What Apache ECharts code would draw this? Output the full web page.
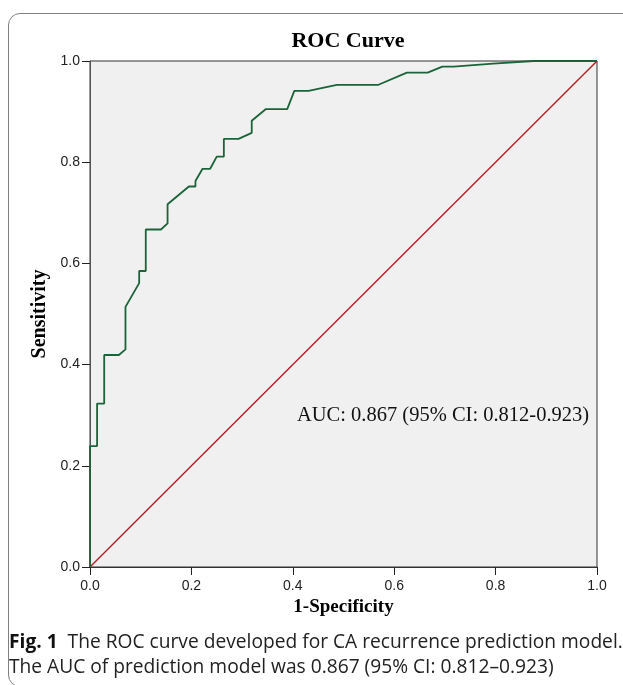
<!DOCTYPE html>
<html>
<head>
<meta charset="utf-8">
<script src="https://cdn.jsdelivr.net/npm/echarts@6/dist/echarts.min.js"></script>
<style>
	html, body { margin: 0; padding: 0; background: #fff; overflow: hidden; }
	#frame {
		position: absolute; left: 8px; top: 13px; width: 720px; height: 674px;
		border: 1.5px solid #808080; border-radius: 12px; box-sizing: border-box;
	}
	#chart { position: absolute; left: 0; top: 0; width: 623px; height: 685px; }
</style>
</head>
<body>
<div id="frame"></div>
<div id="chart"></div>
<script>
// ROC curve points: [1-specificity, sensitivity]
const rocPoints = [
	[0, 0], [0, 0.239], [0.014, 0.239], [0.014, 0.323], [0.028, 0.323],
	[0.028, 0.419], [0.057, 0.419], [0.07, 0.43], [0.07, 0.514],
	[0.097, 0.561], [0.097, 0.585], [0.11, 0.585], [0.11, 0.667],
	[0.14, 0.667], [0.153, 0.679], [0.153, 0.717], [0.195, 0.752],
	[0.208, 0.752], [0.208, 0.763], [0.222, 0.787], [0.237, 0.787],
	[0.25, 0.811], [0.264, 0.811], [0.264, 0.846], [0.293, 0.846],
	[0.319, 0.858], [0.319, 0.882], [0.347, 0.905], [0.389, 0.905],
	[0.403, 0.941], [0.431, 0.941], [0.487, 0.953], [0.569, 0.953],
	[0.625, 0.977], [0.666, 0.977], [0.695, 0.989], [0.717, 0.989],
	[0.795, 0.995], [0.875, 1.0], [1, 1],
];
const refLine = [[0, 0], [1, 1]];
const aucText = "AUC: 0.867 (95% CI: 0.812-0.923)";
const captionLines = [
	"The ROC curve developed for CA recurrence prediction model.",
	"The AUC of prediction model was 0.867 (95% CI: 0.812\u20130.923)",
];

const chart = echarts.init(document.getElementById("chart"));

const serif = "'Liberation Serif', 'Times New Roman', serif";
const sans = "'Liberation Sans', Arial, sans-serif";
const capFont = "'Open Sans', 'Noto Sans', sans-serif";

const option = {
	animation: false,
	title: {
		text: "ROC Curve",
		left: 343,
		top: 25,
		textAlign: "center",
		textStyle: { fontFamily: serif, fontSize: 22, fontWeight: "bold", color: "#000" },
	},
	grid: {
		left: 90,
		right: 26,
		top: 61,
		bottom: 118,
		show: true,
		backgroundColor: "#f0f0f0",
		borderColor: "#333",
		borderWidth: 1,
	},
	xAxis: {
		type: "value",
		min: 0,
		max: 1,
		interval: 0.2,
		name: "1-Specificity",
		nameLocation: "middle",
		nameGap: 30,
		nameTextStyle: { fontFamily: serif, fontSize: 19, fontWeight: "bold", color: "#000" },
		axisLine: { show: true, lineStyle: { color: "#333" } },
		axisTick: { show: true, length: 8, lineStyle: { color: "#222" } },
		splitLine: { show: false },
		axisLabel: {
			fontFamily: sans,
			fontSize: 14,
			color: "#222",
			margin: 12,
			formatter: (v) => v.toFixed(1),
		},
	},
	yAxis: {
		type: "value",
		min: 0,
		max: 1,
		interval: 0.2,
		name: "Sensitivity",
		nameLocation: "middle",
		nameGap: 32,
		nameTextStyle: { fontFamily: serif, fontSize: 20, fontWeight: "bold", color: "#000" },
		axisLine: { show: true, lineStyle: { color: "#555" } },
		axisTick: { show: true, length: 8, lineStyle: { color: "#222" } },
		splitLine: { show: false },
		axisLabel: {
			fontFamily: sans,
			fontSize: 14,
			color: "#222",
			margin: 10,
			formatter: (v) => v.toFixed(1),
		},
	},
	series: [
		{
			name: "ROC",
			type: "line",
			data: rocPoints,
			symbol: "none",
			lineStyle: { color: "#1b6338", width: 1.8 },
			z: 3,
		},
		{
			name: "Reference",
			type: "line",
			data: refLine,
			symbol: "none",
			lineStyle: { color: "#b01f24", width: 1.4 },
			z: 2,
		},
	],
	graphic: [
		{
			type: "text",
			left: 297,
			top: 405,
			style: { text: aucText, fontFamily: serif, fontSize: 20.5, fill: "#111" },
		},
		{
			type: "text",
			left: 9,
			top: 630,
			style: {
				text: "{b|Fig. 1}  " + captionLines[0] + "\n" + captionLines[1],
				fontFamily: capFont,
				fontSize: 19.2,
				lineHeight: 25,
				fill: "#222",
				rich: {
					b: { fontFamily: capFont, fontSize: 19.2, fontWeight: "bold", fill: "#111" },
				},
			},
		},
	],
};

chart.setOption(option);
</script>
</body>
</html>
